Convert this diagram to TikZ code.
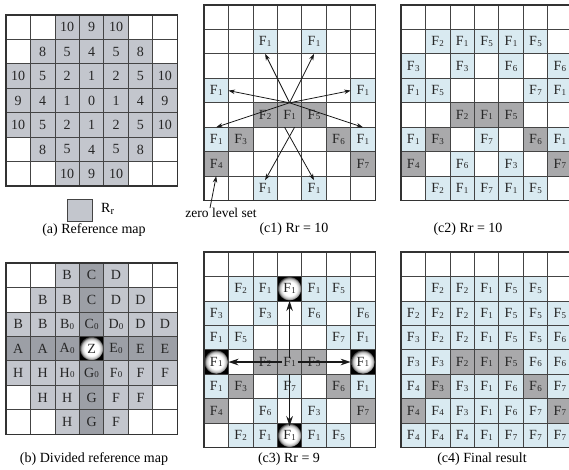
\documentclass[tikz,border=0pt]{standalone}
\usepackage{fontspec}
\setmainfont{Liberation Serif}
\usetikzlibrary{arrows.meta,calc}
\definecolor{ga}{HTML}{C3C6CD}
\definecolor{gb}{HTML}{9C9FA6}
\definecolor{lb}{HTML}{D9EAF1}
\definecolor{dg}{HTML}{A9A9AB}
\definecolor{gl}{HTML}{444444}
\pgfdeclareradialshading{ballsh}{\pgfpoint{0bp}{0bp}}{color(0bp)=(white); color(15bp)=(white); color(21bp)=(black!25); color(24bp)=(black!60); color(25bp)=(black!85); color(50bp)=(black)}
\newcommand{\Fx}[1]{F\kern0.3pt\raisebox{-0.7pt}{\fontsize{9}{9}\selectfont #1}}
\newcommand{\Lx}[2]{#1\kern0.2pt\raisebox{-0.7pt}{\fontsize{9}{9}\selectfont #2}}
\tikzset{
  cellbox/.style={minimum width=24.45pt, minimum height=24.45pt, inner sep=0pt, outer sep=0pt, font=\fontsize{14}{15}\selectfont, text=black!85},
  gridl/.style={draw=gl, line width=0.8pt},
  border/.style={draw=black!80, line width=1.3pt},
  captext/.style={font=\fontsize{14}{16}\selectfont, inner sep=0pt},
  thinarr/.style={-{Stealth[length=6.5pt,width=4.5pt]}, line width=0.8pt, black!90},
  thickarr/.style={-{Stealth[length=10pt,width=6.5pt]}, line width=1.6pt, black!90}
}
\newcommand{\drawpanel}[6]{%
  \begin{scope}[shift={(#2,#3)}]
  \foreach \cellR/\cellC/\cellF/\cellT in {#6} {
    \node[cellbox, fill=\cellF] (#1-\cellR-\cellC) at ({(\cellC-0.5)*24.45},{(\cellR-0.5)*24.45}) {\cellT};
  }
  \foreach \i in {0,...,#4} \draw[gridl] ({\i*24.45},0) -- ({\i*24.45},{#5*24.45});
  \foreach \j in {0,...,#5} \draw[gridl] (0,{\j*24.45}) -- ({#4*24.45},{\j*24.45});
  \draw[border] (0,0) rectangle ({#4*24.45},{#5*24.45});
  \end{scope}}
\newcommand{\ballcell}[4]{%
  \fill[black] ({#1+(#4-1)*24.45},{#2+(#3-1)*24.45}) rectangle ++(24.45,24.45);
  \shade[shading=ballsh] ({#1+(#4-0.5)*24.45},{#2+(#3-0.5)*24.45}) circle[radius=11.8pt];}
\begin{document}
\begin{tikzpicture}[x=1pt,y=-1pt]
\useasboundingbox (0,0) rectangle (569,470);
\clip (0,0) rectangle (569,470);

% ---------- (a) reference map ----------
\drawpanel{a}{6}{15}{7}{7}{
 1/3/ga/10, 1/4/ga/9, 1/5/ga/10,
 2/2/ga/8, 2/3/ga/5, 2/4/ga/4, 2/5/ga/5, 2/6/ga/8,
 3/1/ga/10, 3/2/ga/5, 3/3/ga/2, 3/4/ga/1, 3/5/ga/2, 3/6/ga/5, 3/7/ga/10,
 4/1/ga/9, 4/2/ga/4, 4/3/ga/1, 4/4/ga/0, 4/5/ga/1, 4/6/ga/4, 4/7/ga/9,
 5/1/ga/10, 5/2/ga/5, 5/3/ga/2, 5/4/ga/1, 5/5/ga/2, 5/6/ga/5, 5/7/ga/10,
 6/2/ga/8, 6/3/ga/5, 6/4/ga/4, 6/5/ga/5, 6/6/ga/8,
 7/3/ga/10, 7/4/ga/9, 7/5/ga/10}
\node[draw=gl, line width=0.8pt, fill=ga, minimum width=25pt, minimum height=22pt, inner sep=0pt] (leg) at (79.5,210) {};
\node[captext, anchor=west] (legt) at (101,209) {R\raisebox{-1.5pt}{\fontsize{10.5}{10.5}\selectfont r}};
\node[captext] (capa) at (94,230) {(a) Reference map};

% ---------- (b) divided reference map ----------
\ballcell{6}{263}{4}{4}
\drawpanel{b}{6}{263}{7}{7}{
 1/3/ga/B, 1/4/gb/C, 1/5/ga/D,
 2/2/ga/B, 2/3/ga/B, 2/4/gb/C, 2/5/ga/D, 2/6/ga/\raisebox{-2.5pt}{D},
 3/1/ga/B, 3/2/ga/B, 3/3/ga/\Lx{B}{0}, 3/4/gb/\Lx{C}{0}, 3/5/ga/\Lx{D}{0}, 3/6/ga/D, 3/7/ga/D,
 4/1/gb/A, 4/2/gb/A, 4/3/gb/\Lx{A}{0}, 4/4/none/Z, 4/5/gb/\Lx{E}{0}, 4/6/gb/E, 4/7/gb/E,
 5/1/ga/H, 5/2/ga/H, 5/3/ga/\Lx{H}{0}, 5/4/gb/\Lx{G}{0}, 5/5/ga/\Lx{F}{0}, 5/6/ga/F, 5/7/ga/F,
 6/2/ga/H, 6/3/ga/H, 6/4/gb/G, 6/5/ga/F, 6/6/ga/F,
 7/3/ga/H, 7/4/gb/G, 7/5/ga/F}
\node[captext] (capb) at (94,459) {(b) Divided reference map};

% ---------- (c1) ----------
\drawpanel{ca}{204}{5}{7}{8}{
 2/3/lb/\Fx{1}, 2/5/lb/\Fx{1},
 4/1/lb/\Fx{1}, 4/7/lb/\Fx{1},
 5/3/dg/\Fx{2}, 5/4/dg/\Fx{1}, 5/5/dg/\Fx{5},
 6/1/lb/\Fx{1}, 6/2/dg/\Fx{3}, 6/6/dg/\Fx{6}, 6/7/lb/\Fx{1},
 7/1/dg/\Fx{4}, 7/7/dg/\Fx{7},
 8/3/lb/\Fx{1}, 8/5/lb/\Fx{1}}
\coordinate (o1) at (ca-5-4.north);
\coordinate (o2) at (ca-5-4.south);
\draw[thinarr] (o1) -- (ca-2-3.south);
\draw[thinarr] (o1) -- (ca-2-5.south);
\draw[thinarr] (o1) -- (ca-4-1.east);
\draw[thinarr] (o1) -- (ca-4-7.west);
\draw[thinarr] (o1) -- (ca-6-1.north);
\draw[thinarr] (o1) -- (ca-6-7.north);
\draw[thinarr] ([xshift=5pt]o2) -- ([yshift=-4pt]ca-8-3.north);
\draw[thinarr] ([xshift=-5pt]o2) -- ([yshift=-4pt]ca-8-5.north);
\node[captext, font=\fontsize{13.5}{15}\selectfont] (zls) at (221,213) {zero level set};
\draw[thinarr] ([xshift=-11pt]zls.north) -- (ca-7-1.south);
\node[captext] (capc1) at (294,229) {(c1) Rr = 10};

% ---------- (c2) ----------
\drawpanel{cb}{401}{5}{7}{8}{
 2/2/lb/\Fx{2}, 2/3/lb/\Fx{1}, 2/4/lb/\Fx{5}, 2/5/lb/\Fx{1}, 2/6/lb/\Fx{5},
 3/1/lb/\Fx{3}, 3/3/lb/\Fx{3}, 3/5/lb/\Fx{6}, 3/7/lb/\Fx{6},
 4/1/lb/\Fx{1}, 4/2/lb/\Fx{5}, 4/6/lb/\Fx{7}, 4/7/lb/\Fx{1},
 5/3/dg/\Fx{2}, 5/4/dg/\Fx{1}, 5/5/dg/\Fx{5},
 6/1/lb/\Fx{1}, 6/2/dg/\Fx{3}, 6/4/lb/\Fx{7}, 6/6/dg/\Fx{6}, 6/7/lb/\Fx{1},
 7/1/dg/\Fx{4}, 7/3/lb/\Fx{6}, 7/5/lb/\Fx{3}, 7/7/dg/\Fx{7},
 8/2/lb/\Fx{2}, 8/3/lb/\Fx{1}, 8/4/lb/\Fx{7}, 8/5/lb/\Fx{1}, 8/6/lb/\Fx{5}}
\node[captext] (capc2) at (468,229) {(c2) Rr = 10};

% ---------- (c3) ----------
\ballcell{204}{252}{2}{4}
\ballcell{204}{252}{5}{1}
\ballcell{204}{252}{5}{7}
\ballcell{204}{252}{8}{4}
\drawpanel{cc}{204}{252}{7}{8}{
 2/2/lb/\Fx{2}, 2/3/lb/\Fx{1}, 2/4/none/\Fx{1}, 2/5/lb/\Fx{1}, 2/6/lb/\Fx{5},
 3/1/lb/\Fx{3}, 3/3/lb/\Fx{3}, 3/5/lb/\Fx{6}, 3/7/lb/\Fx{6},
 4/1/lb/\Fx{1}, 4/2/lb/\Fx{5}, 4/6/lb/\Fx{7}, 4/7/lb/\Fx{1},
 5/1/none/\Fx{1}, 5/3/dg/\Fx{2}, 5/4/dg/\Fx{1}, 5/5/dg/\Fx{5}, 5/7/none/\Fx{1},
 6/1/lb/\Fx{1}, 6/2/dg/\Fx{3}, 6/4/lb/\Fx{7}, 6/6/dg/\Fx{6}, 6/7/lb/\Fx{1},
 7/1/dg/\Fx{4}, 7/3/lb/\Fx{6}, 7/5/lb/\Fx{3}, 7/7/dg/\Fx{7},
 8/2/lb/\Fx{2}, 8/3/lb/\Fx{1}, 8/4/none/\Fx{1}, 8/5/lb/\Fx{1}, 8/6/lb/\Fx{5}}
\coordinate (u3) at ([yshift=-8pt]cc-5-4.north);
\coordinate (l3) at ([xshift=-8pt]cc-5-4.center);
\coordinate (r3) at ([xshift=8pt]cc-5-4.center);
\draw[thickarr] (u3) -- (cc-2-4.south);
\draw[thickarr] (l3) -- (cc-5-1.east);
\draw[thickarr] (r3) -- (cc-5-7.west);
\draw[thickarr] (cc-5-4.south) -- ([yshift=-3pt]cc-8-4.north);
\node[captext] (capc3) at (289,459) {(c3) Rr = 9};

% ---------- (c4) ----------
\drawpanel{cd}{401}{252}{7}{8}{
 2/2/lb/\Fx{2}, 2/3/lb/\Fx{2}, 2/4/lb/\Fx{1}, 2/5/lb/\Fx{5}, 2/6/lb/\Fx{5},
 3/1/lb/\Fx{2}, 3/2/lb/\Fx{2}, 3/3/lb/\Fx{2}, 3/4/lb/\Fx{1}, 3/5/lb/\Fx{5}, 3/6/lb/\Fx{5}, 3/7/lb/\Fx{5},
 4/1/lb/\Fx{3}, 4/2/lb/\Fx{2}, 4/3/lb/\Fx{2}, 4/4/lb/\Fx{1}, 4/5/lb/\Fx{5}, 4/6/lb/\Fx{5}, 4/7/lb/\Fx{6},
 5/1/lb/\Fx{3}, 5/2/lb/\Fx{3}, 5/3/dg/\Fx{2}, 5/4/dg/\Fx{1}, 5/5/dg/\Fx{5}, 5/6/lb/\Fx{6}, 5/7/lb/\Fx{6},
 6/1/lb/\Fx{4}, 6/2/dg/\Fx{3}, 6/3/lb/\Fx{3}, 6/4/lb/\Fx{1}, 6/5/lb/\Fx{6}, 6/6/dg/\Fx{6}, 6/7/lb/\Fx{7},
 7/1/dg/\Fx{4}, 7/2/lb/\Fx{4}, 7/3/lb/\Fx{3}, 7/4/lb/\Fx{1}, 7/5/lb/\Fx{6}, 7/6/lb/\Fx{7}, 7/7/dg/\Fx{7},
 8/1/lb/\Fx{4}, 8/2/lb/\Fx{4}, 8/3/lb/\Fx{4}, 8/4/lb/\Fx{1}, 8/5/lb/\Fx{7}, 8/6/lb/\Fx{7}, 8/7/lb/\Fx{7}}
\node[captext] (capc4) at (482,459) {(c4) Final result};
\end{tikzpicture}
\end{document}
